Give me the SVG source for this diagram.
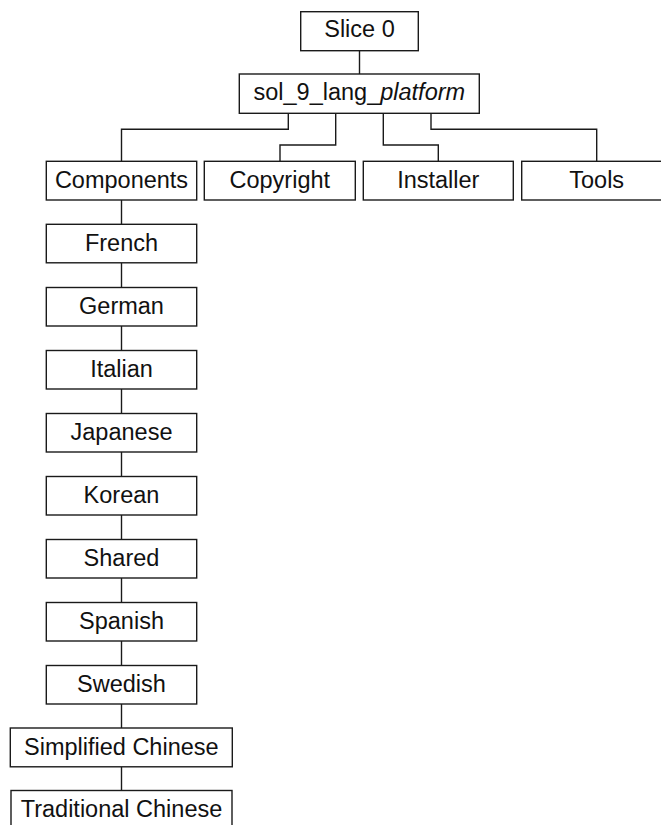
<svg xmlns="http://www.w3.org/2000/svg" width="661" height="825" viewBox="0 0 661 825">
  <style>
    .box { fill: #ffffff; stroke: #1a1a1a; stroke-width: 1.4; }
    .lbl { font-family: "Liberation Sans", Arial, Helvetica, sans-serif; font-size: 23.5px; fill: #111111; text-anchor: middle; }
    .wire { fill: none; stroke: #1a1a1a; stroke-width: 1.4; }
  </style>
  <rect width="661" height="825" fill="#ffffff"/>

  <!-- connectors -->
  <g id="connectors" class="wire">
    <path d="M359.5,51 V74"/>
    <path d="M288.3,113.3 V129.3 H121.5 V161.3"/>
    <path d="M335.7,113.3 V145 H280 V161.3"/>
    <path d="M383.3,113.3 V145 H438.3 V161.3"/>
    <path d="M431,113.3 V129.3 H596.7 V161.3"/>
    <path d="M121.5,200 V224.3"/>
    <path d="M121.5,263 V287.5"/>
    <path d="M121.5,326 V350.5"/>
    <path d="M121.5,389 V413.5"/>
    <path d="M121.5,452 V476.5"/>
    <path d="M121.5,515 V539.5"/>
    <path d="M121.5,578 V602.5"/>
    <path d="M121.5,641 V665.5"/>
    <path d="M121.5,704 V728"/>
    <path d="M121.5,767 V790.5"/>
  </g>

  <!-- top level -->
  <g id="slice0">
    <rect class="box" x="300.7" y="11.7" width="117.6" height="39"/>
    <text class="lbl" x="359.5" y="37">Slice 0</text>
  </g>
  <g id="sol_9_lang_platform">
    <rect class="box" x="239.3" y="74" width="240" height="39.3"/>
    <text class="lbl" x="359.3" y="100">sol_9_lang_<tspan font-style="italic">platform</tspan></text>
  </g>

  <!-- second level -->
  <g id="components">
    <rect class="box" x="46.3" y="161.3" width="150.4" height="38.7"/>
    <text class="lbl" x="121.5" y="187.5">Components</text>
  </g>
  <g id="copyright">
    <rect class="box" x="204.3" y="161.3" width="151" height="38.7"/>
    <text class="lbl" x="279.8" y="187.5">Copyright</text>
  </g>
  <g id="installer">
    <rect class="box" x="363.3" y="161.3" width="150" height="38.7"/>
    <text class="lbl" x="438.3" y="187.5">Installer</text>
  </g>
  <g id="tools">
    <rect class="box" x="521.7" y="161.3" width="150" height="38.7"/>
    <text class="lbl" x="596.7" y="187.5">Tools</text>
  </g>

  <!-- component languages -->
  <g id="french">
    <rect class="box" x="46.3" y="224.3" width="150.4" height="38.5"/>
    <text class="lbl" x="121.5" y="250.5">French</text>
  </g>
  <g id="german">
    <rect class="box" x="46.3" y="287.5" width="150.4" height="38.5"/>
    <text class="lbl" x="121.5" y="313.5">German</text>
  </g>
  <g id="italian">
    <rect class="box" x="46.3" y="350.5" width="150.4" height="38.5"/>
    <text class="lbl" x="121.5" y="376.5">Italian</text>
  </g>
  <g id="japanese">
    <rect class="box" x="46.3" y="413.5" width="150.4" height="38.5"/>
    <text class="lbl" x="121.5" y="439.5">Japanese</text>
  </g>
  <g id="korean">
    <rect class="box" x="46.3" y="476.5" width="150.4" height="38.5"/>
    <text class="lbl" x="121.5" y="502.5">Korean</text>
  </g>
  <g id="shared">
    <rect class="box" x="46.3" y="539.5" width="150.4" height="38.5"/>
    <text class="lbl" x="121.5" y="565.5">Shared</text>
  </g>
  <g id="spanish">
    <rect class="box" x="46.3" y="602.5" width="150.4" height="38.5"/>
    <text class="lbl" x="121.5" y="628.5">Spanish</text>
  </g>
  <g id="swedish">
    <rect class="box" x="46.3" y="665.5" width="150.4" height="38.5"/>
    <text class="lbl" x="121.5" y="691.5">Swedish</text>
  </g>
  <g id="simplified_chinese">
    <rect class="box" x="10.3" y="728" width="222" height="38.8"/>
    <text class="lbl" x="121.3" y="754.5">Simplified Chinese</text>
  </g>
  <g id="traditional_chinese">
    <rect class="box" x="11" y="790.5" width="221" height="45"/>
    <text class="lbl" x="121.5" y="817">Traditional Chinese</text>
  </g>
</svg>
